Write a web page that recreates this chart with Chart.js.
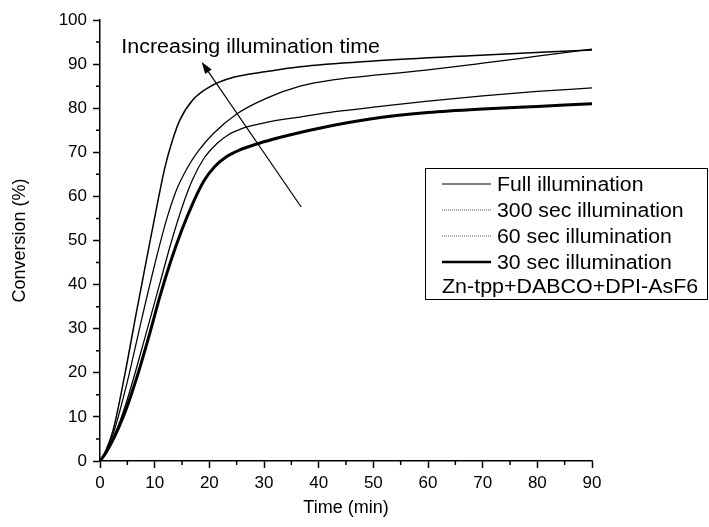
<!DOCTYPE html>
<html><head><meta charset="utf-8">
<script src="https://cdn.jsdelivr.net/npm/chart.js@4.4.1/dist/chart.umd.min.js"></script>
<style>html,body{margin:0;padding:0;background:#fff}#wrap{width:709px;height:527px}</style>
</head><body><div id="wrap"><canvas id="c" width="709" height="527"></canvas></div>
<script>
const FONT = '"Liberation Sans", Arial, Helvetica, sans-serif';

// ---- data (time in min, conversion in %) ----
const seriesNames = ['Full illumination', '300 sec illumination', '60 sec illumination', '30 sec illumination'];
const systemLabel = 'Zn-tpp+DABCO+DPI-AsF6';
const annotationText = 'Increasing illumination time';

const timeFull = [0,1,2.4,4.6,6.7,8.5,10.6,11.9,13.2,14.6,17,20,24.4,30.5,36.6,50,67.7,90];
const convFull = [0,2.2,7,20,34,45.6,59,66.7,72.5,77.3,81.9,84.8,87,88.3,89.4,90.7,91.9,93.2];

const time300 = [0,1,2.5,5,7.5,10,12,14,16,18,20.7,25,30.5,36.6,43,51.3,60,70,80,90];
const conv300 = [0,2,6.5,18,31.5,44.5,54,61.5,66.5,70.3,74.2,78.7,82.3,85,86.5,87.6,88.7,90.2,91.8,93.4];

const time60 = [0,1,2,3.5,5,7,9,11,13,15,17,19,21.4,23.5,25.6,28,30.5,36.6,43,51.3,60,70,80,90];
const conv60 = [0,1.8,4.2,8.5,14,22.5,31.5,40.5,49.5,57.5,64,68.6,72,74,75.2,76.1,76.8,78,79.2,80.4,81.6,82.8,83.8,84.6];

const time30 = [0,1,2,3.5,5,7,9,11,13,15,17,19,21,23,25.5,29,33,36.6,43,51.3,60,70,80,90];
const conv30 = [0,1.7,3.9,7.8,12.5,20,28.5,37.5,45.5,52.5,58.5,63.5,66.8,68.9,70.5,72,73.4,74.5,76.2,77.9,79,79.8,80.4,81];

const xMin = 0, xMax = 90, xStep = 10, xMinorStep = 5;
const yMin = 0, yMax = 100, yStep = 10, yMinorStep = 5;

// arrow in data units: tail -> head
const arrowTail = [36.8, 57.6];
const arrowHead = [18.6, 90.5];
const annotationPos = [3.9, 92.6]; // left/baseline of text, data units

function pts(t, v){ return t.map((x,i)=>({x:x, y:v[i]})); }

const lineWidths = [1.5, 1.25, 1.25, 3];

const decor = {
  id:'decor',
  afterDraw(chart){
    const ctx = chart.ctx, xs = chart.scales.x, ys = chart.scales.y;
    const ca = chart.chartArea;
    ctx.save();
    // minor ticks
    ctx.strokeStyle = '#000'; ctx.lineWidth = 1.5;
    ctx.beginPath();
    for (let v = xMin + xMinorStep; v < xMax; v += xStep) {
      const p = xs.getPixelForValue(v);
      ctx.moveTo(p, ca.bottom); ctx.lineTo(p, ca.bottom + 4);
    }
    for (let v = yMin + yMinorStep; v < yMax; v += yStep) {
      const p = ys.getPixelForValue(v);
      ctx.moveTo(ca.left, p); ctx.lineTo(ca.left - 4, p);
    }
    ctx.stroke();

    // arrow
    const tx = xs.getPixelForValue(arrowTail[0]), ty = ys.getPixelForValue(arrowTail[1]);
    const hx = xs.getPixelForValue(arrowHead[0]), hy = ys.getPixelForValue(arrowHead[1]);
    const ang = Math.atan2(hy - ty, hx - tx);
    const L = 12, W = 4;
    ctx.lineWidth = 1.2;
    ctx.beginPath(); ctx.moveTo(tx, ty);
    ctx.lineTo(hx - Math.cos(ang)*L*0.8, hy - Math.sin(ang)*L*0.8); ctx.stroke();
    ctx.fillStyle = '#000';
    ctx.beginPath();
    ctx.moveTo(hx, hy);
    ctx.lineTo(hx - Math.cos(ang)*L + Math.sin(ang)*W, hy - Math.sin(ang)*L - Math.cos(ang)*W);
    ctx.lineTo(hx - Math.cos(ang)*L - Math.sin(ang)*W, hy - Math.sin(ang)*L + Math.cos(ang)*W);
    ctx.closePath(); ctx.fill();

    function sText(txt, x, y, size, sx){
      ctx.save(); ctx.translate(x, y); ctx.scale(sx, 1);
      ctx.font = size + 'px ' + FONT; ctx.fillStyle = '#000';
      ctx.textBaseline = 'alphabetic'; ctx.textAlign = 'left';
      ctx.fillText(txt, 0, 0); ctx.restore();
    }
    // annotation text
    sText(annotationText, xs.getPixelForValue(annotationPos[0]), ys.getPixelForValue(annotationPos[1]), 19.5, 1.1);

    // legend box
    const bx = 425, by = 168, bw = 283, bh = 132;
    ctx.fillStyle = '#fff'; ctx.fillRect(bx, by, bw, bh);
    ctx.strokeStyle = '#000'; ctx.lineWidth = 1;
    ctx.strokeRect(bx + 0.5, by + 0.5, bw - 1, bh - 1);
    const baselines = [191, 217, 243, 269, 293];
    const sampleStyles = [
      {w:1, dash:[], c:'#000'},
      {w:1, dash:[1,1], c:'#555'},
      {w:1, dash:[1,1], c:'#555'},
      {w:2.5, dash:[], c:'#000'}
    ];
    seriesNames.forEach((name, i) => {
      const b = baselines[i], s = sampleStyles[i];
      ctx.save();
      ctx.strokeStyle = s.c; ctx.lineWidth = s.w; ctx.setLineDash(s.dash);
      ctx.beginPath(); ctx.moveTo(442, b - 7); ctx.lineTo(491, b - 7); ctx.stroke();
      ctx.restore();
      sText(name, 497, b, 19.5, 1.09);
    });
    sText(systemLabel, 442, baselines[4], 19.5, 1.1);
    ctx.restore();
  }
};

const tickFont = {family: FONT, size: 17};
const titleFont = {family: FONT, size: 18};

new Chart(document.getElementById('c'), {
  type: 'line',
  data: {
    datasets: [
      {label: seriesNames[0], data: pts(timeFull, convFull)},
      {label: seriesNames[1], data: pts(time300, conv300)},
      {label: seriesNames[2], data: pts(time60, conv60)},
      {label: seriesNames[3], data: pts(time30, conv30)}
    ].map((d, i) => Object.assign(d, {
      borderColor: '#000', borderWidth: lineWidths[i], pointRadius: 0,
      fill: false, cubicInterpolationMode: 'monotone'
    }))
  },
  options: {
    responsive: false, animation: false, devicePixelRatio: 1,
    layout: {padding: {left: 0, top: 20, right: 117, bottom: 0}},
    plugins: {legend: {display: false}, tooltip: {enabled: false}},
    scales: {
      x: {
        type: 'linear', min: xMin, max: xMax,
        ticks: {stepSize: xStep, color: '#000', font: tickFont, padding: 5, maxRotation: 0, autoSkip: false},
        grid: {display: true, drawOnChartArea: false, drawTicks: true, tickLength: 7, color: '#000', tickWidth: 1.5},
        border: {display: true, color: '#000', width: 1.5},
        title: {display: true, text: 'Time (min)', color: '#000', font: titleFont, padding: {top: 0, bottom: 8}},
        afterFit(s){ s.height = 66; }
      },
      y: {
        type: 'linear', min: yMin, max: yMax,
        ticks: {stepSize: yStep, color: '#000', font: tickFont, padding: 6, autoSkip: false},
        grid: {display: true, drawOnChartArea: false, drawTicks: true, tickLength: 7, color: '#000', tickWidth: 1.5},
        border: {display: true, color: '#000', width: 1.5},
        title: {display: true, text: 'Conversion (%)', color: '#000', font: titleFont, padding: {top: 9, bottom: 0}},
        afterFit(s){ s.width = 100; }
      }
    }
  },
  plugins: [decor]
});
</script>
</body></html>
